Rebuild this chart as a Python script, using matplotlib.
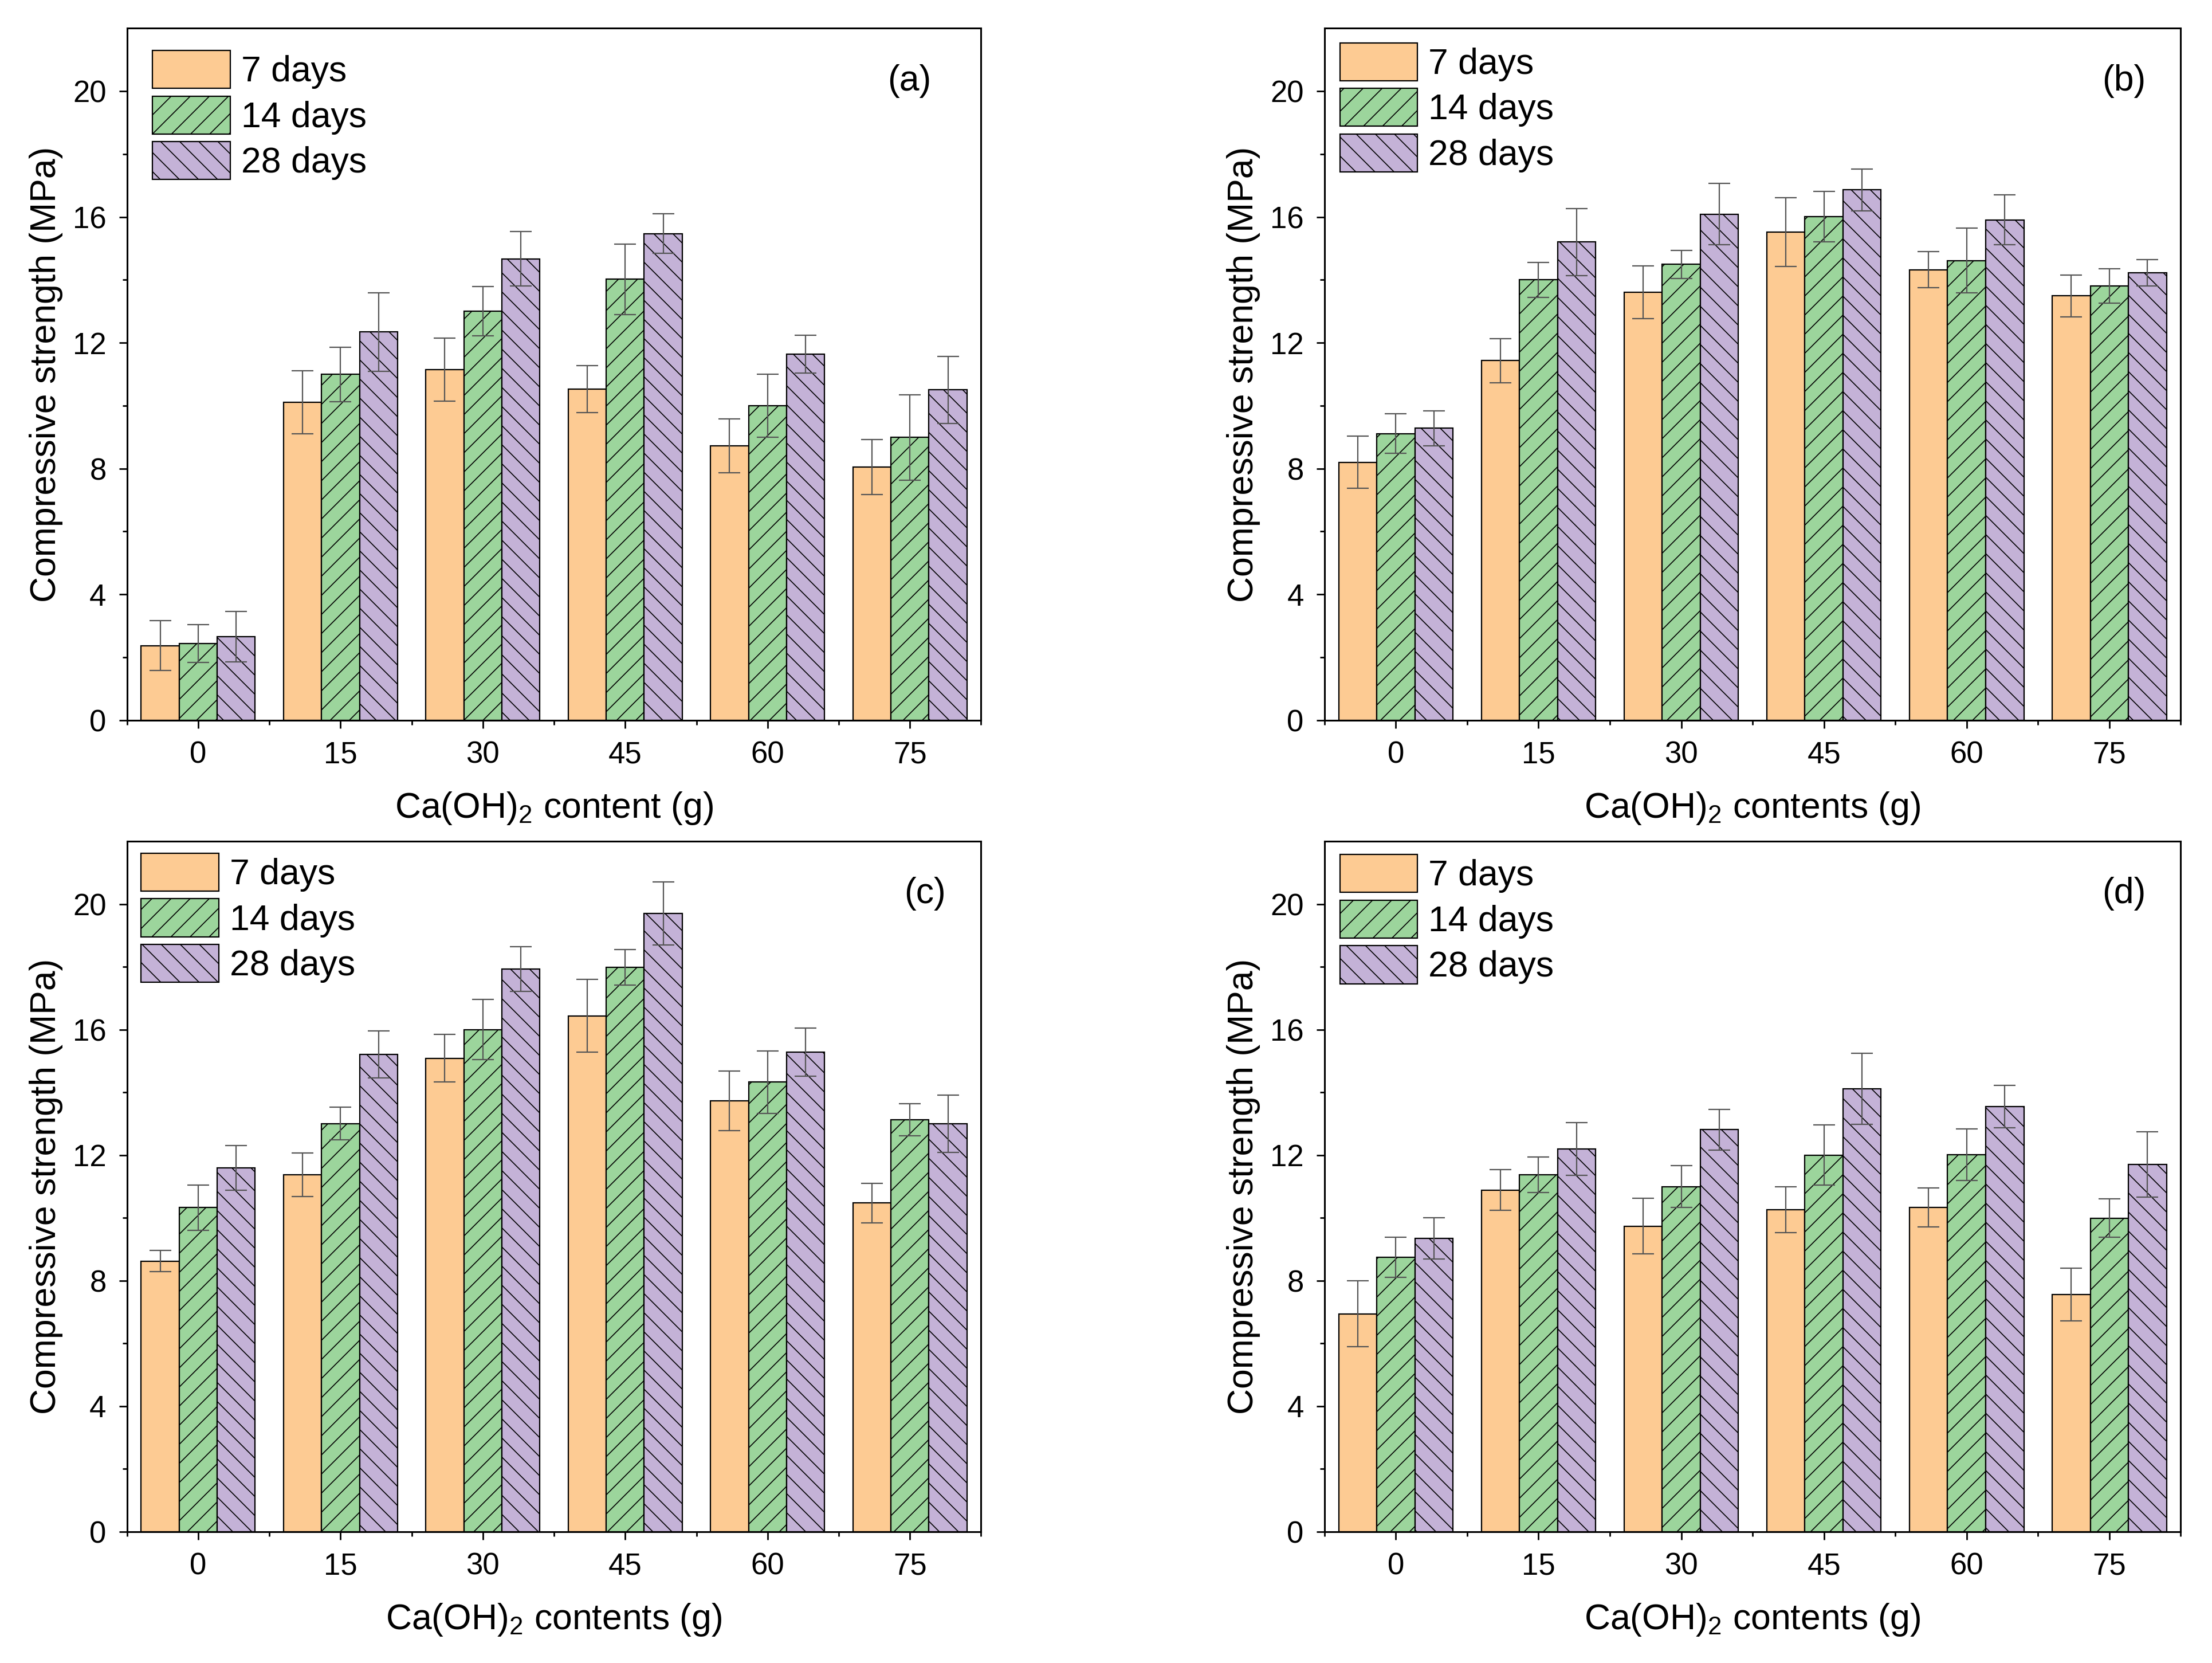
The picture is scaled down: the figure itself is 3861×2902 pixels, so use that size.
import matplotlib
matplotlib.use("Agg")
import matplotlib.pyplot as plt
import numpy as np
from matplotlib.ticker import FixedLocator

plt.rcParams["font.family"] = ["Liberation Sans", "DejaVu Sans"]
plt.rcParams["mathtext.default"] = "regular"
plt.rcParams["hatch.linewidth"] = 0.6

# ---- data ----------------------------------------------------------
contents = ["0", "15", "30", "45", "60", "75"]
series = ["7 days", "14 days", "28 days"]

a_7d = [2.37, 10.11, 11.14, 10.53, 8.72, 8.05]
a_14d = [2.43, 10.99, 13.00, 14.02, 9.99, 8.99]
a_28d = [2.65, 12.34, 14.67, 15.47, 11.63, 10.50]
a_7d_err = [0.80, 1.00, 1.00, 0.75, 0.86, 0.88]
a_14d_err = [0.60, 0.87, 0.78, 1.12, 1.00, 1.36]
a_28d_err = [0.80, 1.25, 0.87, 0.63, 0.60, 1.07]

b_7d = [8.20, 11.43, 13.61, 15.52, 14.32, 13.49]
b_14d = [9.11, 14.00, 14.49, 16.01, 14.61, 13.80]
b_28d = [9.28, 15.20, 16.09, 16.86, 15.91, 14.23]
b_7d_err = [0.83, 0.70, 0.84, 1.10, 0.57, 0.67]
b_14d_err = [0.63, 0.56, 0.44, 0.80, 1.03, 0.55]
b_28d_err = [0.55, 1.06, 0.98, 0.66, 0.79, 0.42]

c_7d = [8.62, 11.38, 15.09, 16.44, 13.74, 10.48]
c_14d = [10.33, 13.01, 16.00, 17.99, 14.33, 13.13]
c_28d = [11.60, 15.22, 17.94, 19.71, 15.29, 13.00]
c_7d_err = [0.34, 0.69, 0.76, 1.16, 0.95, 0.63]
c_14d_err = [0.72, 0.52, 0.96, 0.56, 1.00, 0.51]
c_28d_err = [0.71, 0.75, 0.71, 1.00, 0.77, 0.91]

d_7d = [6.94, 10.89, 9.74, 10.26, 10.33, 7.56]
d_14d = [8.74, 11.38, 11.00, 12.00, 12.02, 9.99]
d_28d = [9.35, 12.19, 12.81, 14.11, 13.55, 11.70]
d_7d_err = [1.05, 0.65, 0.88, 0.73, 0.62, 0.84]
d_14d_err = [0.64, 0.57, 0.66, 0.96, 0.82, 0.61]
d_28d_err = [0.66, 0.84, 0.65, 1.13, 0.67, 1.04]

panel_tags = ["(a)", "(b)", "(c)", "(d)"]
xlabels = ["Ca(OH)$_2$ content (g)", "Ca(OH)$_2$ contents (g)",
           "Ca(OH)$_2$ contents (g)", "Ca(OH)$_2$ contents (g)"]

# ---- style ----------------------------------------------------------
colors = ["#FDCB93", "#9CD59C", "#C4B2D7"]
hatches = ["", "//", "\\\\"]
positions = [[0.0574, 0.567, 0.386, 0.416], [0.5986, 0.567, 0.387, 0.416],
             [0.0574, 0.079, 0.386, 0.415], [0.5986, 0.079, 0.387, 0.415]]
legend_anchor = [(0.030, 0.968), (0.018, 0.979), (0.0165, 0.983), (0.018, 0.981)]
tag_pos = [(0.916, 0.924), (0.934, 0.924), (0.934, 0.924), (0.934, 0.924)]

panels = [
    ([a_7d, a_14d, a_28d], [a_7d_err, a_14d_err, a_28d_err]),
    ([b_7d, b_14d, b_28d], [b_7d_err, b_14d_err, b_28d_err]),
    ([c_7d, c_14d, c_28d], [c_7d_err, c_14d_err, c_28d_err]),
    ([d_7d, d_14d, d_28d], [d_7d_err, d_14d_err, d_28d_err]),
]

fig = plt.figure(figsize=(19.31, 14.51), dpi=200)
x = np.arange(len(contents))
width = 0.267

for i, (vals, errs) in enumerate(panels):
    ax = fig.add_axes(positions[i])
    for j in range(3):
        ax.bar(x + (j - 1) * width, vals[j], width, color=colors[j],
               hatch=hatches[j], edgecolor="black", linewidth=0.8,
               label=series[j], zorder=2)
        ax.errorbar(x + (j - 1) * width, vals[j], yerr=errs[j], fmt="none",
                    ecolor="#555555", elinewidth=0.8, capsize=7,
                    capthick=0.8, zorder=3)

    ax.set_xlim(-0.5, 5.5)
    ax.set_ylim(0, 22)
    ax.set_xticks(x)
    ax.set_xticklabels(contents)
    ax.xaxis.set_minor_locator(FixedLocator(np.arange(-0.5, 6.0, 1.0)))
    ax.yaxis.set_major_locator(FixedLocator([0, 4, 8, 12, 16, 20]))
    ax.yaxis.set_minor_locator(FixedLocator([2, 6, 10, 14, 18]))
    ax.tick_params(which="major", direction="out", length=5, width=1.0,
                   labelsize=19, pad=8)
    ax.tick_params(which="minor", direction="out", length=3, width=1.0)
    for s in ax.spines.values():
        s.set_linewidth(1.1)

    ax.set_xlabel(xlabels[i], fontsize=22.5, labelpad=13)
    ax.set_ylabel("Compressive strength (MPa)", fontsize=22.5, labelpad=6)

    ax.legend(loc="upper left", bbox_to_anchor=legend_anchor[i],
              frameon=False, fontsize=22.5, borderpad=0, borderaxespad=0,
              handlelength=2.17, handleheight=1.25, labelspacing=0.2,
              handletextpad=0.3)
    ax.text(tag_pos[i][0], tag_pos[i][1], panel_tags[i], transform=ax.transAxes,
            ha="center", va="center", fontsize=22.5)

fig.savefig("out.png", dpi=200)
